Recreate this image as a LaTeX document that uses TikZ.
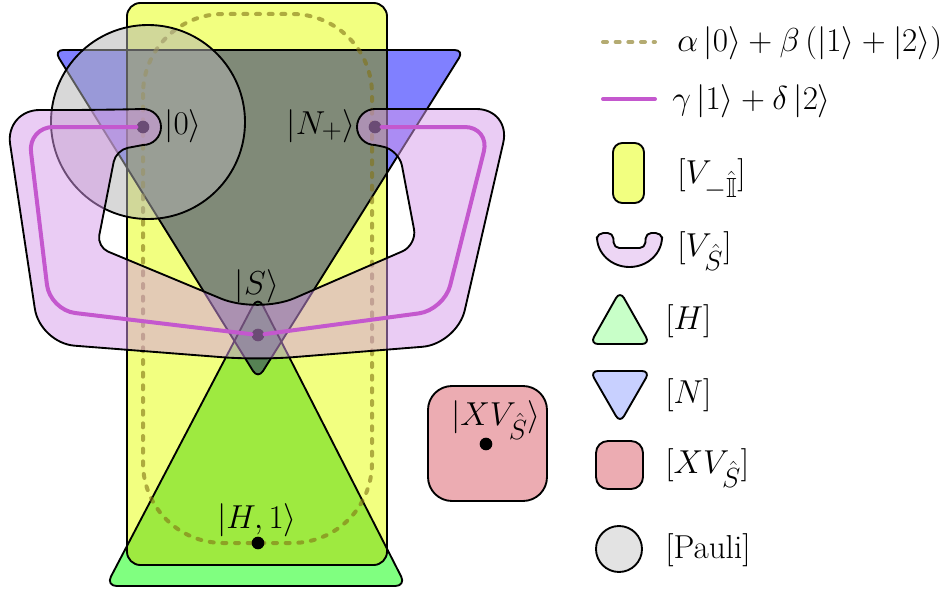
\RequirePackage{fix-cm}
\documentclass[tikz,border=0pt]{standalone}
\usepackage{amssymb}

\definecolor{vyellow}{RGB}{242,255,128}
\definecolor{hgreen}{RGB}{128,255,128}
\definecolor{hvgreen}{RGB}{158,234,64}
\definecolor{nblue}{RGB}{128,128,255}
\definecolor{nvdark}{RGB}{128,138,120}
\definecolor{nhvdark}{RGB}{86,130,84}
\definecolor{svpurple}{RGB}{214,153,234}
\definecolor{xvpink}{RGB}{236,172,178}
\definecolor{gdmagenta}{RGB}{196,88,206}
\definecolor{abolive}{RGB}{130,115,20}
\definecolor{legh}{RGB}{200,255,200}
\definecolor{legn}{RGB}{200,208,255}
\definecolor{legs}{RGB}{237,214,245}
\definecolor{legp}{RGB}{227,227,227}

% regions, in pixel units (y down)
\def\vishape{[rounded corners=10pt] (127,3) rectangle (387,565)}
\def\hshape{[rounded corners=8pt] (256,586) -- (106,586) -- (258,296) -- (406,586) -- cycle}
\def\nshape{[rounded corners=7pt] (258,50) -- (464,50) -- (258,379) -- (54,50) -- cycle}
\def\vsshape{(100,110) [sharp corners] -- (143,109)
  arc[start angle=-90, end angle=90, radius=18]
  [rounded corners=9pt] -- (116,150) -- (97,247)
  [rounded corners=30pt] -- (258,314)
  [rounded corners=12pt] -- (417,245) -- (399,150)
  [sharp corners] -- (375,145)
  arc[start angle=90, end angle=270, radius=18]
  [rounded corners=26pt] -- (511,109) -- (457,344) -- (258,360) -- (40,343) -- (5,110) -- cycle}

\begin{document}
\begin{tikzpicture}[x=0.75pt, y=-0.75pt,
  ketdot/.style={circle, fill=black, inner sep=0pt, minimum size=9.5pt},
  ketlabel/.style={inner sep=0pt, anchor=base, font=\Huge},
  legtext/.style={inner sep=0pt, anchor=base west, font=\Huge},
  shapeline/.style={draw=black, line width=1.4pt, line join=round},
  abline/.style={draw=abolive, draw opacity=0.6, line width=3pt, line cap=round, dash pattern=on 3pt off 6.5pt},
  gdline/.style={draw=gdmagenta, line width=3pt, line cap=round, line join=round}]
\useasboundingbox (0,0) rectangle (946,592);

% V_{-I}, H and N with their overlaps
\fill[vyellow] \vishape;
\fill[hgreen] \hshape;
\begin{scope}
  \clip \vishape;
  \fill[hvgreen] \hshape;
\end{scope}
\fill[nblue] \nshape;
\begin{scope}
  \clip \vishape;
  \fill[nvdark] \nshape;
  \clip \hshape;
  \fill[nhvdark] \nshape;
\end{scope}
\draw[shapeline] \vishape;
\draw[shapeline] \hshape;
\draw[shapeline] \nshape;

% alpha|0> + beta(|1>+|2>)
\draw[abline, rounded corners=60pt] (143,14) rectangle (372,543);

% Pauli
\filldraw[shapeline, fill=black!30, fill opacity=0.5] (148,122) circle[radius=97];

% states inside V_S
\node[ketdot] (zero) at (143,127) {};
\node[ketdot] (nplus) at (375,127) {};
\node[ketdot] (spt) at (258,335) {};

% V_S
\filldraw[shapeline, fill=svpurple, fill opacity=0.5] \vsshape;

% gamma|1> + delta|2>
\coordinate (g1) at (28,127);
\coordinate (g2) at (50,310);
\coordinate (g3) at (444,310);
\coordinate (g4) at (490,127);
\draw[gdline, rounded corners=19pt] (zero) -- (g1) -- (g2) -- (spt);
\draw[gdline, rounded corners=19pt] (spt) -- (g3) -- (g4) -- (nplus);

% H,1 and XV_S
\node[ketdot] (hone) at (258,543) {};
\filldraw[shapeline, fill=xvpink, rounded corners=18pt] (428,386) rectangle (547,501);
\node[ketdot] (xv) at (486,444) {};

\node[ketlabel] (zerolab) at (183,134) {$|0\rangle$};
\node[ketlabel] (npluslab) at (321,134) {$|N_+\rangle$};
\node[ketlabel] (slab) at (257,294) {$|S\rangle$};
\node[ketlabel] (honelab) at (257,528) {$|H,1\rangle$};
\node[ketlabel] (xvlab) at (496,425) {$|XV_{\hat S}\rangle$};

% legend
\draw[abline] (603,42) -- (655,42);
\node[legtext] (legab) at (677,52) {$\alpha\left|0\right\rangle + \beta\left(\left|1\right\rangle + \left|2\right\rangle\right)$};
\draw[gdline] (603,99) -- (655,99);
\node[legtext] (leggd) at (672,109) {$\gamma\left|1\right\rangle + \delta\left|2\right\rangle$};
\filldraw[shapeline, fill=vyellow, rounded corners=7pt] (613,143) rectangle (644,203);
\node[legtext] (legvi) at (677,183) {$[V_{-\hat{\mathbb{I}}}]$};
\filldraw[shapeline, fill=legs] (597,237) [rounded corners=4pt] -- (598,233) -- (613,233) -- (614,248) -- (645,248) -- (646,233) -- (661,233)
  [sharp corners] -- (662,237) arc[start angle=0, end angle=180, x radius=32.5, y radius=30] -- cycle;
\node[legtext] (legvs) at (677,256) {$[V_{\hat S}]$};
\filldraw[shapeline, fill=legh, rounded corners=6pt] (620,344) -- (590,344) -- (620,291) -- (650,344) -- cycle;
\node[legtext] (leghh) at (665,329) {$[H]$};
\filldraw[shapeline, fill=legn, rounded corners=6pt] (620,371) -- (650,371) -- (620,423) -- (590,371) -- cycle;
\node[legtext] (legnn) at (665,403) {$[N]$};
\filldraw[shapeline, fill=xvpink, rounded corners=9pt] (596,441) rectangle (643,489);
\node[legtext] (legxv) at (665,473) {$[XV_{\hat S}]$};
\filldraw[shapeline, fill=legp] (619,549) circle[radius=23];
\node[legtext] (legpa) at (665,558) {[Pauli]};
\end{tikzpicture}
\end{document}
